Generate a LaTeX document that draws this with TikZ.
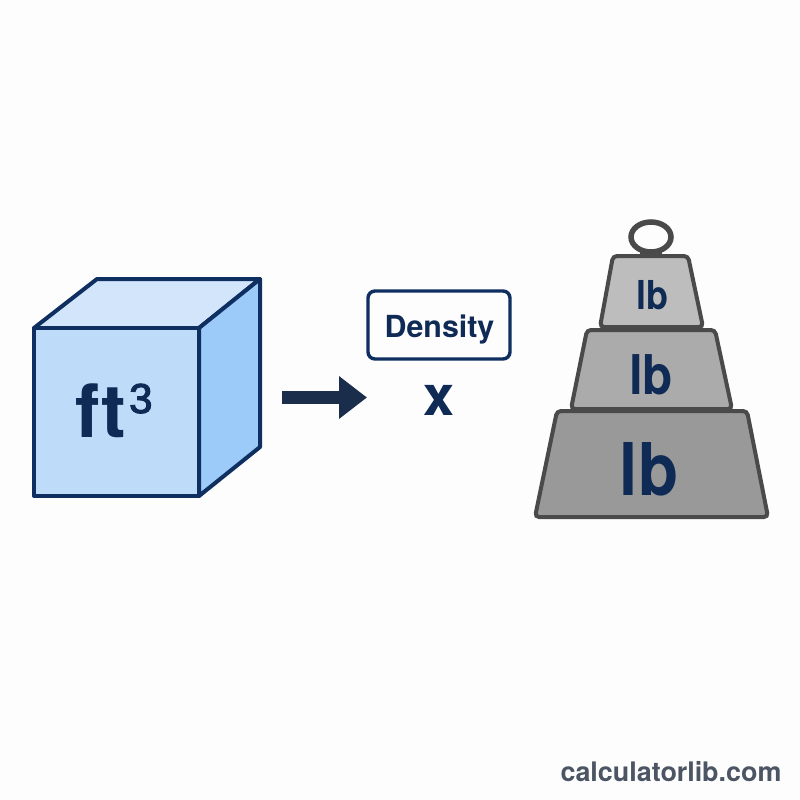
\documentclass[tikz,border=0pt]{standalone}
\usepackage{fontspec}
\setmainfont{TeX Gyre Heros}
\newfontfamily\plainsans{Liberation Sans}
\usetikzlibrary{arrows.meta}
\definecolor{navy}{HTML}{0F2A55}
\definecolor{arrowink}{HTML}{1A2E4C}
\definecolor{cubeline}{HTML}{0E2F5F}
\definecolor{cubefront}{HTML}{BFDBFA}
\definecolor{cubetop}{HTML}{D2E5FB}
\definecolor{cubeside}{HTML}{9CCBFA}
\definecolor{weightline}{HTML}{4A4A4A}
\definecolor{siteink}{HTML}{4B5563}
\definecolor{paper}{HTML}{FDFDFE}
\tikzset{
  x=1bp, y=-1bp,
  cubeface/.style={draw=cubeline, line width=4bp, line join=round},
  weightblock/.style={draw=weightline, line width=4bp, rounded corners=4bp},
  inklabel/.style={text=navy, font=\bfseries, inner sep=0pt},
}
\newcommand{\sizedfont}[1]{\fontsize{#1}{#1}\selectfont}
% Medium-weight numeral: regular outline thickened with a thin stroke
\newcommand{\mediumglyph}[1]{\special{pdf:code 2 Tr 1.1 w}#1\special{pdf:code 0 Tr}}
\begin{document}
\begin{tikzpicture}
\useasboundingbox (0,0) rectangle (800,800);
\fill[paper] (0,0) rectangle (800,800);

% Cube corners
\coordinate (fTL) at (34,328);
\coordinate (fTR) at (199,328);
\coordinate (fBR) at (199,496);
\coordinate (fBL) at (34,496);
\coordinate (bTL) at (97,279);
\coordinate (bTR) at (260,279);
\coordinate (bBR) at (260,447);

\draw[cubeface, fill=cubetop] (fTL) -- (bTL) -- (bTR) -- (fTR) -- cycle;
\draw[cubeface, fill=cubeside] (fTR) -- (bTR) -- (bBR) -- (fBR) -- cycle;
\draw[cubeface, fill=cubefront] (fTL) -- (fTR) -- (fBR) -- (fBL) -- cycle;
\node[inklabel, anchor=base west] (cubeunit) at (75,437) {\sizedfont{74}ft};
\node[text=navy, inner sep=0pt, anchor=base west] (cubepower) at (129,413) {\plainsans\sizedfont{42}\mediumglyph{3}};

% Arrow
\coordinate (arrowtail) at (282,397.5);
\coordinate (arrowtip) at (367,397.5);
\draw[arrowink, line width=13.5bp, -{Triangle[length=28bp,width=41bp]}] (arrowtail) -- (arrowtip);

% Density box and multiplication sign
\node[draw=cubeline, line width=3.4bp, rounded corners=7bp, fill=paper,
      minimum width=142bp, minimum height=68bp, inner sep=0pt] (density) at (439,325) {};
\node[inklabel, anchor=base] (densitytext) at (439.5,337) {\sizedfont{30.5}Density};
\node[inklabel, anchor=base] (times) at (439,415) {\sizedfont{56}x};

% Stacked weights
\draw[draw=weightline, line width=5.5bp] (651,237) ellipse [x radius=20, y radius=15];
\fill[weightline] (640,250) rectangle (662,257);
\draw[weightblock, fill=black!26] (613,256) -- (688,256) -- (703,327) -- (600,327) -- cycle;
\draw[weightblock, fill=black!33] (587,330) -- (715,330) -- (732,409) -- (571,409) -- cycle;
\draw[weightblock, fill=black!40] (557,411) -- (747,411) -- (768,517) -- (535,517) -- cycle;
\node[inklabel, anchor=base] (lbtop) at (652,309) {\scalebox{0.9}[1]{\sizedfont{40}lb}};
\node[inklabel, anchor=base] (lbmid) at (651,394) {\scalebox{0.9}[1]{\sizedfont{55}lb}};
\node[inklabel, anchor=base] (lbbot) at (649,495) {\scalebox{0.9}[1]{\sizedfont{73}lb}};

% Site name
\node[text=siteink, font=\bfseries, anchor=base, inner sep=0pt] (site) at (671,781) {\sizedfont{27}calculatorlib.com};
\end{tikzpicture}
\end{document}
